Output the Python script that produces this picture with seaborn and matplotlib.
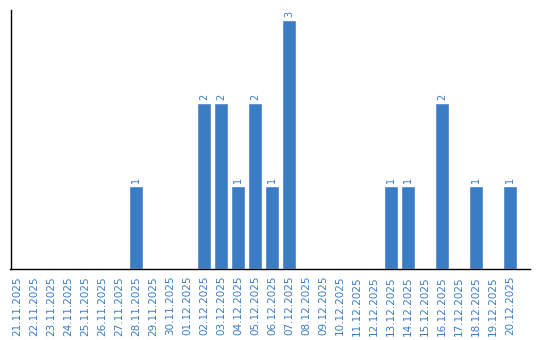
import matplotlib
matplotlib.use("Agg")
import matplotlib.pyplot as plt
import seaborn as sns
import pandas as pd

dates = ["21.11.2025", "22.11.2025", "23.11.2025", "24.11.2025", "25.11.2025",
         "26.11.2025", "27.11.2025", "28.11.2025", "29.11.2025", "30.11.2025",
         "01.12.2025", "02.12.2025", "03.12.2025", "04.12.2025", "05.12.2025",
         "06.12.2025", "07.12.2025", "08.12.2025", "09.12.2025", "10.12.2025",
         "11.12.2025", "12.12.2025", "13.12.2025", "14.12.2025", "15.12.2025",
         "16.12.2025", "17.12.2025", "18.12.2025", "19.12.2025", "20.12.2025"]
counts = [0, 0, 0, 0, 0, 0, 0, 1, 0, 0,
          0, 2, 2, 1, 2, 1, 3, 0, 0, 0,
          0, 0, 1, 1, 0, 2, 0, 1, 0, 1]

color = "#3b7dc4"
df = pd.DataFrame({"date": dates, "count": counts})

sns.set_style("white")
plt.rcParams['font.family'] = ['DejaVu Sans']

fig = plt.figure(figsize=(5.4, 3.4), dpi=100)
ax = fig.add_axes([10.5/540, 1-269/340, (530-10.5)/540, (269-10)/340])
sns.barplot(data=df, x="date", y="count", color=color, width=0.82,
            saturation=1, ax=ax)

for i, v in enumerate(counts):
    if v > 0:
        ax.text(i, v + 0.03, str(v), rotation=90, ha="center", va="bottom",
                fontsize=7, color=color)

ax.set_xlim(-0.38, 30.18)
ax.set_ylim(0, 3.12)
ax.set_xlabel("")
ax.set_ylabel("")
ax.set_yticks([])
ax.tick_params(axis="x", length=0, pad=5, labelsize=7.5, labelcolor=color,
               rotation=90)
for s in ["top", "right"]:
    ax.spines[s].set_visible(False)
for s in ["left", "bottom"]:
    ax.spines[s].set_color("black")
    ax.spines[s].set_linewidth(1)

fig.savefig("out.png", dpi=100)
